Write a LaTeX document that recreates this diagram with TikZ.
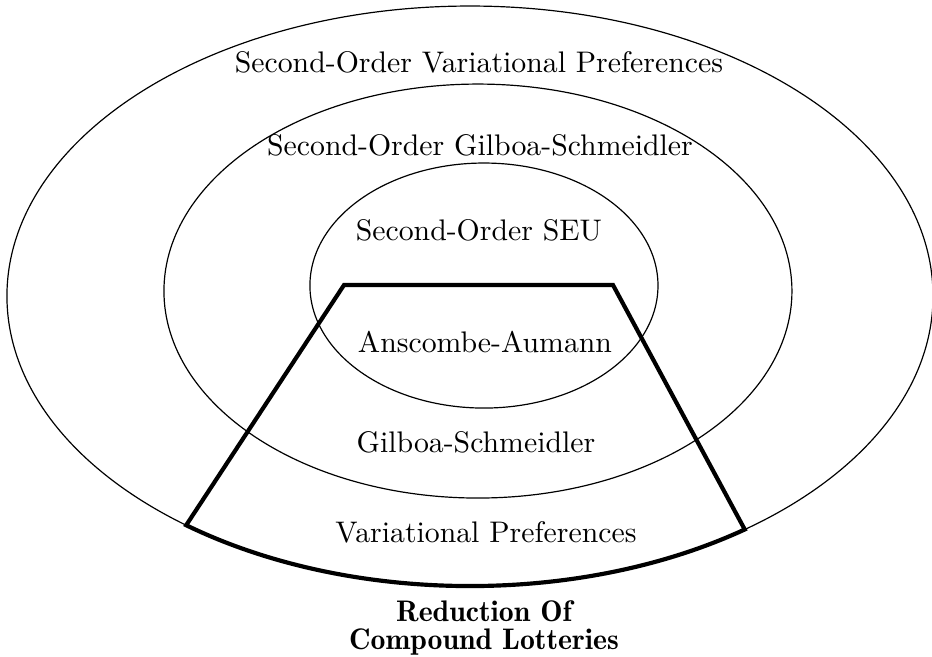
\documentclass[tikz,border=0pt]{standalone}
\usepackage{tikz}
\usetikzlibrary{calc}

\begin{document}
\begin{tikzpicture}[
  ring/.style={draw, line width=0.4pt},
  lbl/.style={font=\normalsize, inner sep=0pt},
  rcl/.style={draw, line width=1.4pt},
  rcllbl/.style={font=\fontseries{b}\fontsize{10pt}{9.6pt}\selectfont, align=center, inner sep=0pt},
]
\useasboundingbox (-5.547,-4.249) rectangle (5.453,3.494);

% nested classes of preferences
\draw[ring] (0,0) ellipse [x radius=5.465, y radius=3.423];
\draw[ring] (0.094,0.059) ellipse [x radius=3.706, y radius=2.443];
\draw[ring] (0.165,0.124) ellipse [x radius=2.054, y radius=1.446];

% region satisfying reduction of compound lotteries
\coordinate (tl) at (-1.487,0.130);
\coordinate (tr) at (1.688,0.130);
\coordinate (br) at (-53.6:5.465 and 3.423);
\draw[rcl] (tl) -- (tr) -- (br)
  arc [start angle=-53.6, end angle=-127.8, x radius=5.465, y radius=3.423] -- cycle;

\node[lbl] (sovp) at (0.106,2.762) {Second-Order Variational Preferences};
\node[lbl] (sogs) at (0.118,1.782) {Second-Order Gilboa-Schmeidler};
\node[lbl] (soseu) at (0.106,0.779) {Second-Order SEU};
\node[lbl] (aa) at (0.177,-0.543) {Anscombe-Aumann};
\node[lbl] (gs) at (0.071,-1.723) {Gilboa-Schmeidler};
\node[lbl] (vp) at (0.189,-2.785) {Variational Preferences};
\node[rcllbl, anchor=north] (rcl) at (0.165,-3.585) {Reduction Of\\Compound Lotteries};

\end{tikzpicture}
\end{document}
